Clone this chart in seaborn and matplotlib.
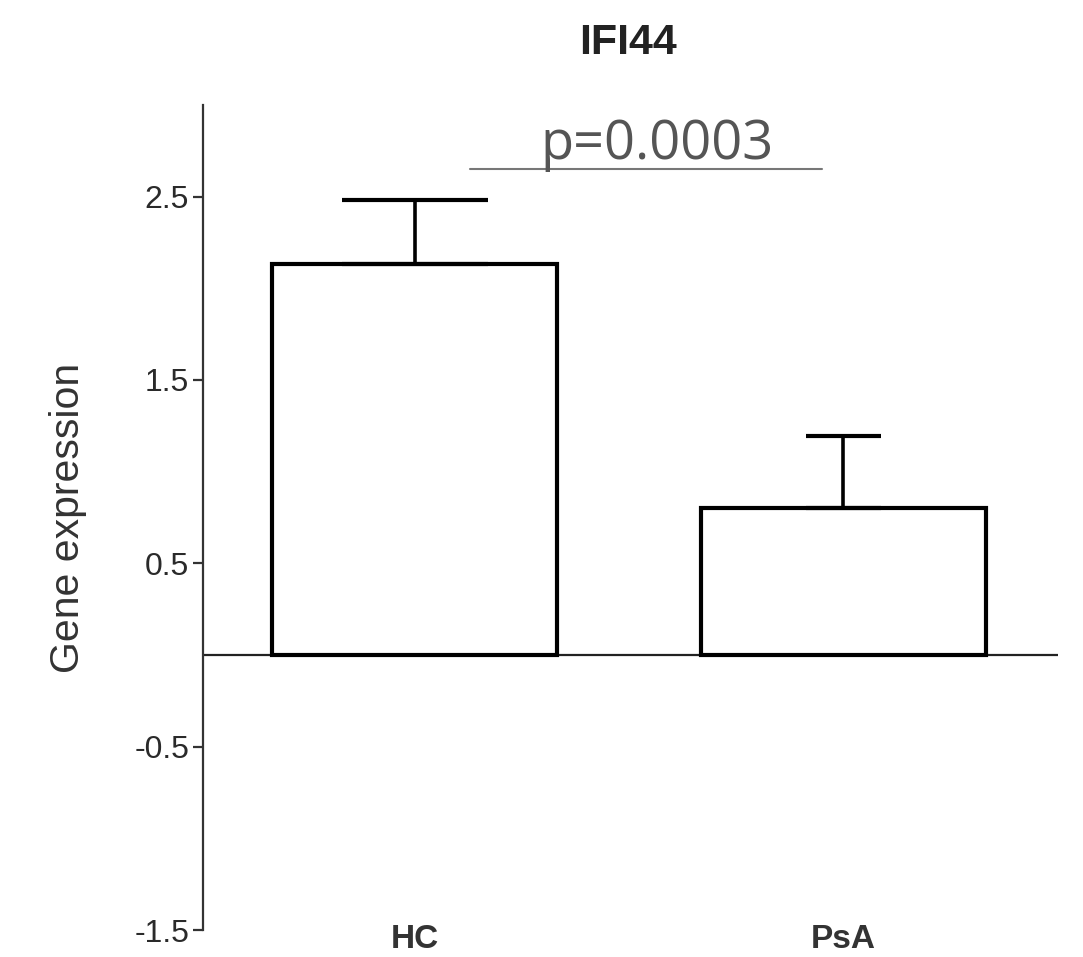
import matplotlib
matplotlib.use("Agg")
import matplotlib.pyplot as plt
import seaborn as sns

# Valores
groups = ["HC", "PsA"]
means = [2.13, 0.80]
err_up = [0.35, 0.395]
cap_pts = [52.5, 27]          # ancho del "cap" distinto por grupo
p_text = "p=0.0003"
p_level = 2.65
p_span = [0.13, 0.95]         # extremos de la linea de significancia (en x categorico)
yticks = [-1.5, -0.5, 0.5, 1.5, 2.5]

sns.set_style("white")
plt.rcParams["font.family"] = ["Liberation Sans", "DejaVu Sans"]

fig = plt.figure(figsize=(10.83, 9.57), dpi=100)
ax = fig.add_axes([0.1874, 0.0282, 0.7895, 0.8621])

sns.barplot(x=groups, y=means, fill=False, color="black", linewidth=3,
            width=0.665, errorbar=None, ax=ax)

# barras de error solo hacia arriba
for i, g in enumerate(groups):
    ax.errorbar(x=[i], y=[means[i]], yerr=[[0], [err_up[i]]], fmt="none",
                ecolor="black", elinewidth=2.6, capsize=cap_pts[i], capthick=3)

# linea en cero
ax.axhline(0, color="#222222", linewidth=1.6, zorder=0)

# significancia
ax.plot(p_span, [p_level, p_level], color="#777777", linewidth=1.5)
ax.text(sum(p_span) / 2 + 0.025, p_level - 0.015, p_text, ha="center", va="bottom",
        fontsize=39, color="#555555", family=["Open Sans", "DejaVu Sans"])

ax.set_ylim(-1.5, 3.0)
ax.set_xlim(-0.494, 1.501)
ax.set_yticks(yticks)
ax.set_yticklabels([str(t) for t in yticks])

for s in ["top", "right", "bottom"]:
    ax.spines[s].set_visible(False)
ax.spines["left"].set_color("#333333")
ax.spines["left"].set_linewidth(1.6)
ax.spines["left"].set_bounds(-1.5, 3.0)

ax.tick_params(axis="y", direction="out", length=7, width=1.6, color="#333333",
               labelsize=23, labelcolor="#2a2a2a", pad=3, left=True)
ax.tick_params(axis="x", length=0, labelsize=24, labelcolor="#333333", pad=-4)
for lab in ax.get_xticklabels():
    lab.set_fontweight("bold")

ax.set_xlabel("")
ax.set_ylabel("Gene expression", fontsize=29.5, color="#333333", labelpad=34)

fig.text(0.58, 0.955, "IFI44", ha="center", va="center", fontsize=31,
         fontweight="bold", color="#222222")

fig.savefig("out.png", dpi=100)
